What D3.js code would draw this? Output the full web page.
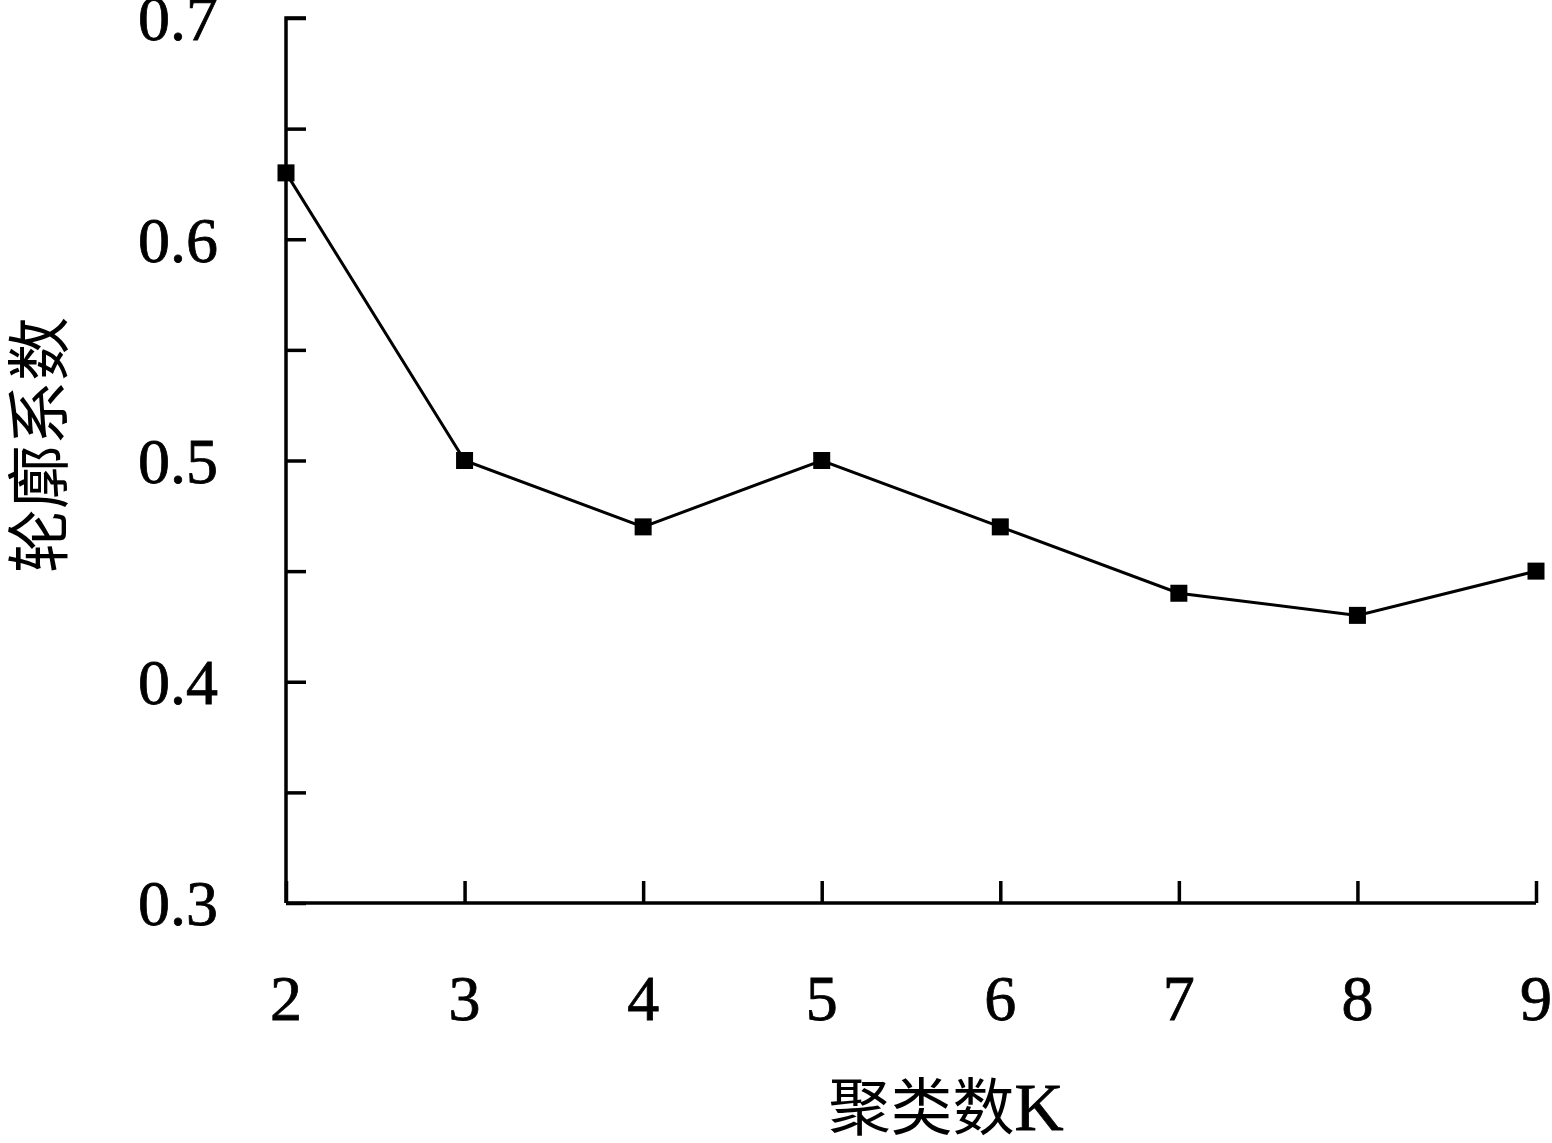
<!DOCTYPE html>
<html><head><meta charset="utf-8">
<script src="https://cdn.jsdelivr.net/npm/d3@7"></script>
<style>body{margin:0;background:#fff}svg{display:block}</style>
</head><body>
<svg id="c" width="1552" height="1143"></svg>
<script>
const categories = [2, 3, 4, 5, 6, 7, 8, 9];
const silhouette = [0.63, 0.50, 0.47, 0.50, 0.47, 0.44, 0.43, 0.45];
const yTicks = [0.3, 0.4, 0.5, 0.6, 0.7];
const yMinorTicks = [0.35, 0.45, 0.55, 0.65];
const xTitle = "聚类数K";
const yTitle = "轮廓系数";

const svg = d3.select("#c");
const x = d3.scaleLinear().domain([2, 9]).range([286, 1536]);
const y = d3.scaleLinear().domain([0.3, 0.7]).range([903, 18]);
const serif = "'Liberation Serif','Times New Roman',serif";

// y axis
const ya = svg.append("g").attr("transform", "translate(286,0)")
  .call(d3.axisRight(y).tickValues(yTicks.concat(yMinorTicks)).tickSize(20).tickFormat(""));
ya.select(".domain").attr("d", `M20,${y(0.7)}H0V${y(0.3)}`);
ya.selectAll("path,line").attr("stroke", "#000").attr("stroke-width", 3.5);

svg.append("g").selectAll("text").data(yTicks).join("text")
  .attr("x", 218).attr("y", d => y(d)).attr("dy", "0.35em")
  .attr("text-anchor", "end").attr("font-family", serif).attr("font-size", 64)
  .attr("stroke", "#000").attr("stroke-width", 0.8)
  .text(d => d3.format(".1f")(d));

// x axis
const xa = svg.append("g").attr("transform", "translate(0,903)")
  .call(d3.axisTop(x).tickValues(categories).tickSize(22).tickFormat(""));
xa.select(".domain").attr("d", `M${x(2)},0H${x(9)}`);
xa.selectAll("path,line").attr("stroke", "#000").attr("stroke-width", 3.5);

svg.append("g").selectAll("text").data(categories).join("text")
  .attr("x", d => x(d)).attr("y", 1020)
  .attr("text-anchor", "middle").attr("font-family", serif).attr("font-size", 64)
  .attr("stroke", "#000").attr("stroke-width", 0.8)
  .text(d => d);

// line
svg.append("path").datum(categories.map((c, i) => [c, silhouette[i]]))
  .attr("fill", "none").attr("stroke", "#000").attr("stroke-width", 3)
  .attr("d", d3.line().x(d => x(d[0])).y(d => y(d[1])));

svg.append("g").selectAll("rect").data(categories.map((c, i) => [c, silhouette[i]])).join("rect")
  .attr("x", d => x(d[0]) - 8.5).attr("y", d => y(d[1]) - 8.5)
  .attr("width", 17).attr("height", 17).attr("fill", "#000");

// titles
const xt = svg.append("text").attr("x", 946).attr("y", 1130).attr("text-anchor", "middle")
  .attr("font-size", 62);
xt.append("tspan").attr("font-family", "'Noto Sans CJK SC'").text("聚类数");
xt.append("tspan").attr("font-family", serif).attr("font-size", 68).attr("stroke", "#000").attr("stroke-width", 0.8).text("K");

svg.append("text").attr("transform", "translate(62,445) rotate(-90)")
  .attr("text-anchor", "middle").attr("font-family", "'Noto Sans CJK SC'").attr("font-size", 64)
  .text(yTitle);
</script>
</body></html>
